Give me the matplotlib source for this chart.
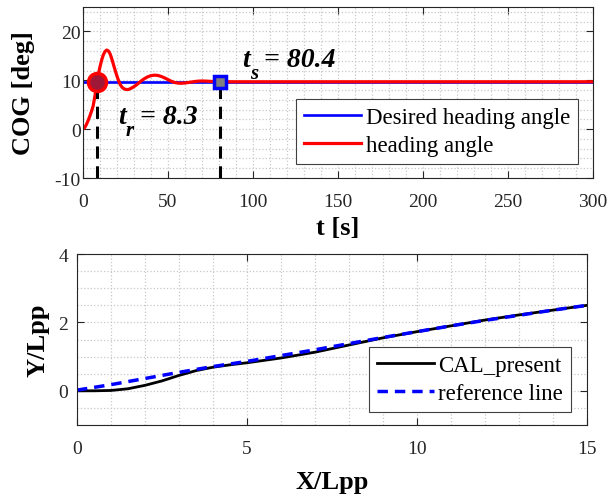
import numpy as np
import matplotlib
matplotlib.use('Agg')
import matplotlib.pyplot as plt
from matplotlib.ticker import MultipleLocator

plt.rcParams['font.family'] = ['Liberation Serif', 'DejaVu Serif']
plt.rcParams['axes.unicode_minus'] = False

# %% data - heading response
t = [0, 1, 2, 3, 4, 5, 6, 7, 8, 8.3, 9, 10, 11, 12, 13, 14, 15, 16, 17, 18,
     19, 20, 21, 22, 23, 24, 25, 26, 27, 28, 30, 32, 34, 36, 38, 40, 42, 44,
     46, 48, 50, 52, 54, 56, 58, 60, 62, 64, 66, 68, 70, 72, 75, 80, 90, 300]
heading = [0, 0.3, 0.9, 1.7, 2.6, 3.6, 4.7, 6.6, 9.1, 9.7, 11.0, 12.7, 14.1,
           15.2, 15.9, 16.2, 16.0, 15.4, 14.4, 13.2, 12.0, 10.9, 9.9, 9.1,
           8.6, 8.3, 8.15, 8.1, 8.15, 8.3, 8.7, 9.2, 9.8, 10.3, 10.7, 10.95,
           11.05, 11.0, 10.8, 10.5, 10.15, 9.8, 9.55, 9.42, 9.4, 9.45, 9.55,
           9.66, 9.76, 9.83, 9.86, 9.84, 9.78, 9.72, 9.7, 9.7]
t_span = [0, 300]
desired = [9.7, 9.7]
t_r, t_s = 8.3, 80.4

# %% data - trajectory
x_cal = [0, 0.5, 1, 1.5, 2, 2.5, 3, 3.5, 4, 4.5, 5, 6, 7, 8, 9, 10, 11, 12,
         13, 14, 15]
y_cal = [0, 0, 0.01, 0.06, 0.16, 0.29, 0.45, 0.59, 0.69, 0.76, 0.82, 0.96,
         1.13, 1.34, 1.55, 1.73, 1.9, 2.07, 2.22, 2.36, 2.5]
x_ref = [0, 1, 2, 3, 4, 5, 6, 7, 8, 9, 10, 11, 12, 13, 14, 15]
y_ref = [0.02, 0.18, 0.36, 0.54, 0.71, 0.86, 1.03, 1.2, 1.38, 1.56, 1.73,
         1.9, 2.06, 2.21, 2.36, 2.5]

# %% figure
fig = plt.figure(figsize=(6.14, 5.02), dpi=100)
ax1 = fig.add_axes([0.135, 0.6434, 0.831, 0.3406])
ax2 = fig.add_axes([0.1254, 0.1514, 0.831, 0.3406])


def style(ax, ypad):
    ax.minorticks_on()
    ax.grid(which='both', color='#c8c8c8', linestyle=':', linewidth=0.9)
    ax.tick_params(which='major', direction='in', top=True, right=True,
                   length=5, width=0.8, labelsize=14, color='#262626',
                   labelcolor='#262626')
    ax.tick_params(axis='x', which='major', pad=11)
    ax.tick_params(axis='y', which='major', pad=ypad)
    ax.tick_params(which='minor', length=0)
    for s in ax.spines.values():
        s.set_color('#262626')
        s.set_linewidth(0.8)
    ax.set_axisbelow(True)


def label_t(ax, x, y, sub, rest):
    kw = dict(fontweight='bold', style='italic', textcoords='offset pixels',
              ha='left', va='baseline')
    ax.annotate('t', (x, y), xytext=(0, 0), fontsize=20, **kw)
    ax.annotate(sub, (x, y), xytext=(8, -12), fontsize=15, **kw)
    ax.annotate(rest, (x, y), xytext=(22, 0), fontsize=20, **kw)


# top plot
ax1.plot(t_span, desired, color='#0000ff', lw=1.9, label='Desired heading angle')
ax1.plot(t, heading, color='#ff0000', lw=2.3, label='heading angle')
ax1.plot([t_r, t_r], [-10, desired[0]], color='k', lw=2.2, ls=(0, (4, 2.5)))
ax1.plot([t_s, t_s], [-10, desired[0]], color='k', lw=2.2, ls=(0, (4, 2.5)))
ax1.plot(t_r, desired[0], 'o', ms=13, mfc='#a01838', mec='#ff0000', mew=2.5)
ax1.plot(t_s, desired[0], 's', ms=9, mfc='#808080', mec='#0000ff', mew=2.5)
label_t(ax1, 20.5, 1.2, 'r', '= 8.3')
label_t(ax1, 93.5, 12.9, 's', '= 80.4')
ax1.set_xlim(0, 300)
ax1.set_ylim(-10, 25)
ax1.xaxis.set_major_locator(MultipleLocator(50))
ax1.xaxis.set_minor_locator(MultipleLocator(10))
ax1.yaxis.set_major_locator(MultipleLocator(10))
ax1.yaxis.set_minor_locator(MultipleLocator(2))
style(ax1, 1.5)
ax1.set_xlabel('t [s]', fontsize=19, fontweight='bold', va='center')
ax1.xaxis.set_label_coords(0.5, -0.287)
ax1.set_ylabel('COG [deg]', fontsize=19, fontweight='bold', va='center')
ax1.yaxis.set_label_coords(-0.1157, 0.5)
leg1 = ax1.legend(handles=ax1.lines[:2], loc='upper right',
                  bbox_to_anchor=(0.9706, 0.462), borderaxespad=0,
                  fontsize=16.5, handlelength=2.5, handletextpad=0.2,
                  labelspacing=0.3, borderpad=0.35, fancybox=False,
                  framealpha=1, edgecolor='#404040')
leg1.get_frame().set_linewidth(0.8)

# bottom plot
ax2.plot(x_cal, y_cal, color='k', lw=2.0, label='CAL_present')
ax2.plot(x_ref, y_ref, color='#0000ff', lw=2.5, ls=(0, (3, 2)),
         label='reference line')
ax2.set_xlim(0, 15)
ax2.set_ylim(-1, 4)
ax2.xaxis.set_major_locator(MultipleLocator(5))
ax2.xaxis.set_minor_locator(MultipleLocator(1))
ax2.yaxis.set_major_locator(MultipleLocator(2))
ax2.yaxis.set_minor_locator(MultipleLocator(0.5))
style(ax2, 6.5)
ax2.set_xlabel('X/Lpp', fontsize=19, fontweight='bold', va='center')
ax2.xaxis.set_label_coords(0.5, -0.333)
ax2.set_ylabel('Y/Lpp', fontsize=19, fontweight='bold', va='center')
ax2.yaxis.set_label_coords(-0.0765, 0.5)
leg2 = ax2.legend(loc='upper right', bbox_to_anchor=(0.9686, 0.456),
                  borderaxespad=0, fontsize=16.5, handlelength=2.5,
                  handletextpad=0.2, labelspacing=0.3, borderpad=0.35,
                  fancybox=False, framealpha=1, edgecolor='#404040')
leg2.get_frame().set_linewidth(0.8)

fig.savefig('out.png', dpi=100)
